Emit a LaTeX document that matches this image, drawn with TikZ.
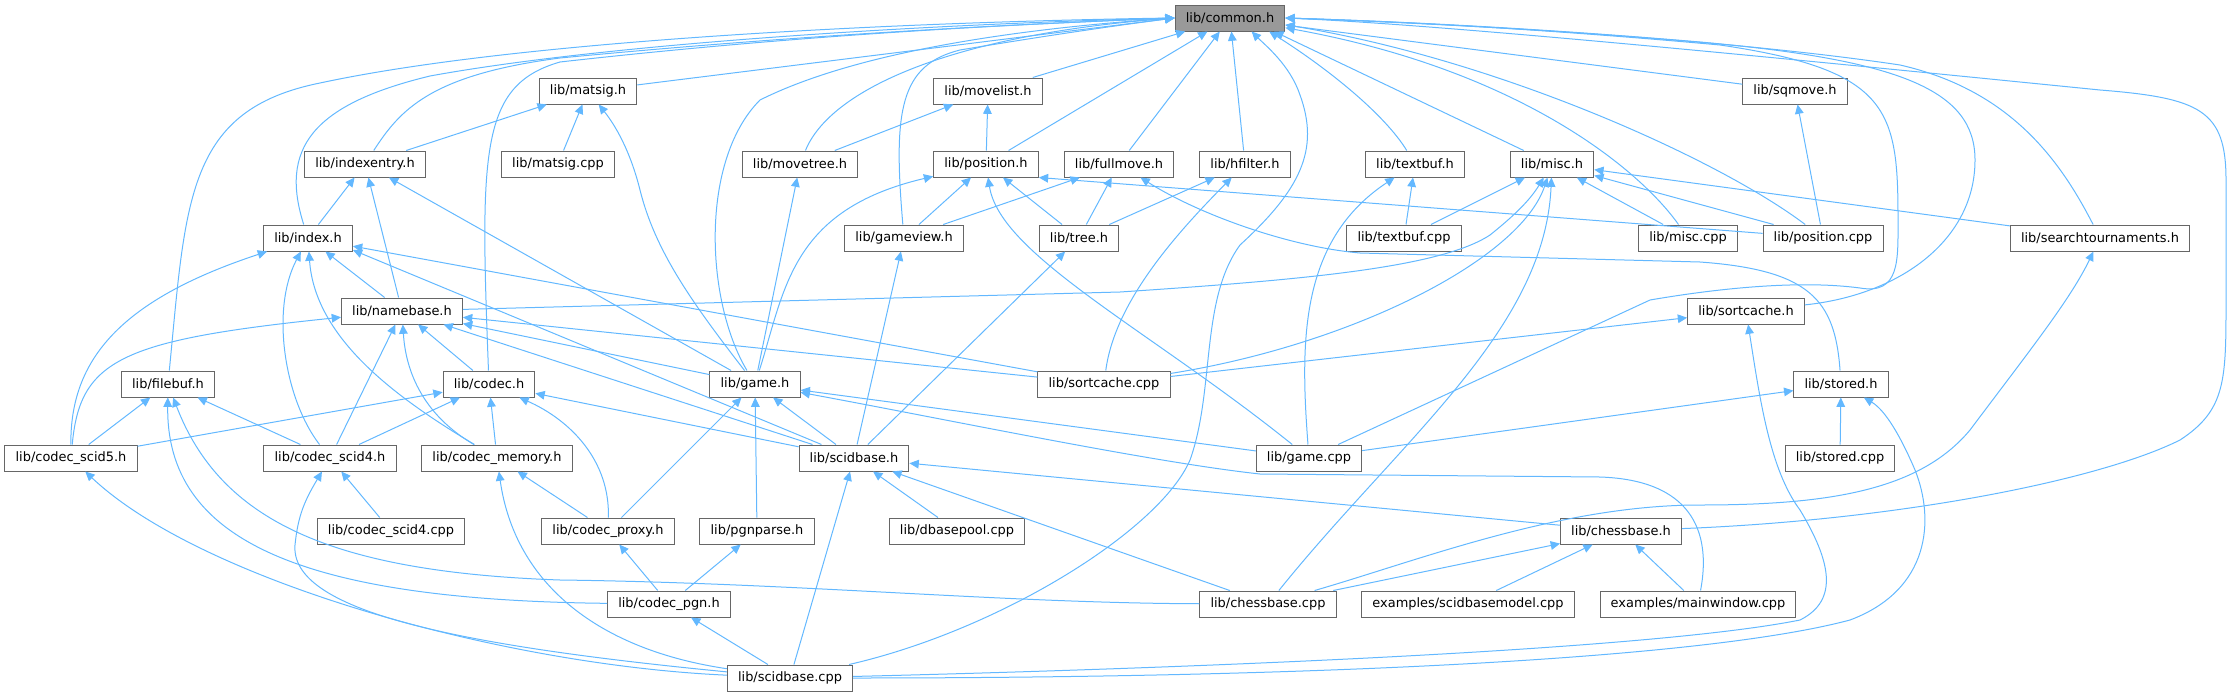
\documentclass[tikz,border=0pt]{standalone}
\usepackage{fontspec}
\setmainfont{DejaVu Sans}
\usetikzlibrary{arrows.meta}
\definecolor{edgeblue}{HTML}{63B8FF}
\definecolor{boxgray}{HTML}{666666}
\definecolor{rootgray}{HTML}{999999}
\newcommand{\dfont}{\fontsize{9.7pt}{11pt}\selectfont}

\begin{document}
\begin{tikzpicture}[x=0.75pt,y=-0.75pt,>={Triangle[length=7pt,width=6.5pt]},
filebox/.style={draw=boxgray,fill=white,line width=0.75pt,minimum height=19.5pt,inner xsep=8pt,inner ysep=0pt,font=\dfont},
root/.style={filebox,fill=rootgray},
incl/.style={->,draw=edgeblue,line width=0.75pt}]
\useasboundingbox (0,0) rectangle (2233,696);
\node[root] (common) at (1230,18) {lib/common.h};
\node[filebox] (matsig) at (588,91) {lib/matsig.h};
\node[filebox] (movelist) at (988,91) {lib/movelist.h};
\node[filebox] (sqmove) at (1795,91) {lib/sqmove.h};
\node[filebox] (indexentry) at (365,164) {lib/indexentry.h};
\node[filebox] (matsigcpp) at (558,164) {lib/matsig.cpp};
\node[filebox] (movetree) at (800,164) {lib/movetree.h};
\node[filebox] (position) at (986,164) {lib/position.h};
\node[filebox] (fullmove) at (1119,164) {lib/fullmove.h};
\node[filebox] (hfilter) at (1245,164) {lib/hfilter.h};
\node[filebox] (textbuf) at (1415,164) {lib/textbuf.h};
\node[filebox] (misc) at (1552,164) {lib/misc.h};
\node[filebox] (index) at (308,238) {lib/index.h};
\node[filebox] (gameview) at (904,238) {lib/gameview.h};
\node[filebox] (tree) at (1079,238) {lib/tree.h};
\node[filebox] (textbufcpp) at (1404,238) {lib/textbuf.cpp};
\node[filebox] (misccpp) at (1688,238) {lib/misc.cpp};
\node[filebox] (positioncpp) at (1823,238) {lib/position.cpp};
\node[filebox] (searchtour) at (2100,238) {lib/searchtournaments.h};
\node[filebox] (namebase) at (402,311) {lib/namebase.h};
\node[filebox] (sortcache) at (1746,311) {lib/sortcache.h};
\node[filebox] (filebuf) at (168,384) {lib/filebuf.h};
\node[filebox] (codec) at (489,384) {lib/codec.h};
\node[filebox] (game) at (755,384) {lib/game.h};
\node[filebox] (sortcachecpp) at (1104,384) {lib/sortcache.cpp};
\node[filebox] (stored) at (1841,384) {lib/stored.h};
\node[filebox] (scidfive) at (71,458) {lib/codec\_scid5.h};
\node[filebox] (scidfour) at (330,458) {lib/codec\_scid4.h};
\node[filebox] (memory) at (497,458) {lib/codec\_memory.h};
\node[filebox] (scidbase) at (854,458) {lib/scidbase.h};
\node[filebox] (gamecpp) at (1309,458) {lib/game.cpp};
\node[filebox] (storedcpp) at (1840,458) {lib/stored.cpp};
\node[filebox] (scidfourcpp) at (391,531) {lib/codec\_scid4.cpp};
\node[filebox] (proxy) at (608,531) {lib/codec\_proxy.h};
\node[filebox] (pgnparse) at (757,531) {lib/pgnparse.h};
\node[filebox] (dbasepool) at (957,531) {lib/dbasepool.cpp};
\node[filebox] (chessbase) at (1621,531) {lib/chessbase.h};
\node[filebox] (pgn) at (669,604) {lib/codec\_pgn.h};
\node[filebox] (chessbasecpp) at (1268,604) {lib/chessbase.cpp};
\node[filebox] (model) at (1468,604) {examples/scidbasemodel.cpp};
\node[filebox] (mainwindow) at (1698,604) {examples/mainwindow.cpp};
\node[filebox] (scidbasecpp) at (790,678) {lib/scidbase.cpp};
\draw[incl] (filebuf) .. controls (186,200) and (186,110) .. (320,83) .. controls (520,40) and (900,22) .. (common.west);
\draw[incl] (index) .. controls (280,150) and (310,105) .. (430,76) .. controls (600,45) and (900,25) .. (common.west);
\draw[incl] (indexentry) .. controls (400,110) and (430,75) .. (560,58) .. controls (800,35) and (1000,25) .. (common.west);
\draw[incl] (codec) .. controls (480,150) and (480,85) .. (560,62) .. controls (800,35) and (1000,25) .. (common.west);
\draw[incl] (matsig) -- (common.west);
\draw[incl] (game) .. controls (705,300) and (700,160) .. (760,100) .. controls (850,55) and (1000,30) .. (common.west);
\draw[incl] (movetree) .. controls (830,90) and (950,35) .. (common.west);
\draw[incl] (gameview) .. controls (893,110) and (900,65) .. (960,50) .. controls (1050,35) and (1120,25) .. (common.west);
\draw[incl] (movelist) -- (common);
\draw[incl] (position) -- (common);
\draw[incl] (fullmove) -- (common);
\draw[incl] (hfilter) -- (common);
\draw[incl] (scidbasecpp) .. controls (1000,630) and (1160,530) .. (1190,460) .. controls (1215,390) and (1200,300) .. (1240,245) .. controls (1300,190) and (1320,150) .. (1300,95) .. controls (1290,65) and (1265,45) .. (common.328);
\draw[incl] (textbuf) .. controls (1385,115) and (1330,70) .. (common.341);
\draw[incl] (misc) -- (common.343);
\draw[incl] (misccpp) .. controls (1640,170) and (1520,70) .. (common.350);
\draw[incl] (positioncpp) .. controls (1720,160) and (1500,60) .. (common.353);
\draw[incl] (sqmove) -- (common);
\draw[incl] (gamecpp) -- (1650,300) .. controls (1720,288) and (1800,280) .. (1860,288) .. controls (1900,295) and (1898,260) .. (1898,220) .. controls (1898,110) and (1890,70) .. (1720,45) .. controls (1500,25) and (1350,20) .. (common.east);
\draw[incl] (sortcache) .. controls (1900,295) and (1975,240) .. (1975,160) .. controls (1975,90) and (1900,60) .. (1700,42) .. controls (1500,25) and (1350,20) .. (common.east);
\draw[incl] (searchtour) .. controls (2060,160) and (2010,90) .. (1900,65) .. controls (1700,35) and (1400,22) .. (common.east);
\draw[incl] (chessbase) .. controls (1900,520) and (2100,480) .. (2180,440) .. controls (2226,410) and (2226,380) .. (2226,300) -- (2226,180) .. controls (2226,110) and (2200,98) .. (2100,90) .. controls (1800,60) and (1450,25) .. (common.east);
\draw[incl] (indexentry) -- (matsig);
\draw[incl] (matsigcpp) -- (matsig);
\draw[incl] (game) .. controls (690,300) and (655,250) .. (640,190) .. controls (630,150) and (615,125) .. (matsig);
\draw[incl] (movetree) -- (movelist);
\draw[incl] (position) -- (movelist);
\draw[incl] (index) -- (indexentry);
\draw[incl] (namebase) -- (indexentry);
\draw[incl] (game) -- (indexentry);
\draw[incl] (game) -- (movetree);
\draw[incl] (game) .. controls (785,290) and (790,210) .. (position);
\draw[incl] (gameview) -- (position);
\draw[incl] (gamecpp) .. controls (1150,330) and (1000,255) .. (position);
\draw[incl] (tree) -- (position);
\draw[incl] (positioncpp) -- (position.south east);
\draw[incl] (gameview) -- (fullmove);
\draw[incl] (tree) -- (fullmove);
\draw[incl] (stored) .. controls (1835,300) and (1810,270) .. (1700,262) -- (1360,253) .. controls (1290,247) and (1200,215) .. (fullmove);
\draw[incl] (tree) -- (hfilter);
\draw[incl] (sortcachecpp) .. controls (1115,300) and (1180,230) .. (hfilter);
\draw[incl] (gamecpp) .. controls (1300,340) and (1300,240) .. (textbuf);
\draw[incl] (textbufcpp) -- (textbuf);
\draw[incl] (textbufcpp) -- (misc);
\draw[incl] (namebase) -- (1120,292) .. controls (1300,280) and (1440,268) .. (1490,235) .. controls (1515,215) and (1530,200) .. (misc);
\draw[incl] (sortcachecpp) .. controls (1350,345) and (1520,260) .. (misc);
\draw[incl] (chessbasecpp) .. controls (1400,440) and (1545,330) .. (misc);
\draw[incl] (misccpp) -- (misc);
\draw[incl] (positioncpp) -- (misc);
\draw[incl] (searchtour) -- (misc);
\draw[incl] (positioncpp) -- (sqmove);
\draw[incl] (scidfive) .. controls (70,360) and (120,300) .. (index);
\draw[incl] (scidfour) .. controls (285,400) and (270,310) .. (index);
\draw[incl] (memory) .. controls (400,400) and (315,340) .. (index);
\draw[incl] (namebase) -- (index);
\draw[incl] (sortcachecpp) -- (index);
\draw[incl] (scidbase) -- (index.345);
\draw[incl] (scidbase) -- (gameview);
\draw[incl] (scidbase) -- (tree);
\draw[incl] (chessbasecpp) .. controls (1420,560) and (1560,505) .. (1700,505) .. controls (1830,505) and (1920,490) .. (1970,430) .. controls (2030,350) and (2070,300) .. (searchtour);
\draw[incl] (scidfive) .. controls (80,360) and (120,340) .. (namebase);
\draw[incl] (scidfour) -- (namebase);
\draw[incl] (memory) .. controls (415,410) and (405,360) .. (namebase);
\draw[incl] (codec) -- (namebase);
\draw[incl] (scidbase) -- (namebase);
\draw[incl] (game) -- (namebase);
\draw[incl] (sortcachecpp) -- (namebase);
\draw[incl] (sortcachecpp) -- (sortcache);
\draw[incl] (scidbasecpp) .. controls (1200,668) and (1650,650) .. (1800,620) .. controls (1840,600) and (1830,560) .. (1800,510) .. controls (1770,470) and (1760,400) .. (sortcache);
\draw[incl] (scidfive) -- (filebuf);
\draw[incl] (pgn) .. controls (300,600) and (166,540) .. (filebuf);
\draw[incl] (chessbasecpp) .. controls (1000,603) and (800,583) .. (560,580) .. controls (330,572) and (220,520) .. (filebuf);
\draw[incl] (scidfour) -- (filebuf);
\draw[incl] (scidfive) -- (codec);
\draw[incl] (scidfour) -- (codec);
\draw[incl] (memory) -- (codec);
\draw[incl] (proxy) .. controls (610,460) and (570,420) .. (codec);
\draw[incl] (scidbase) -- (codec);
\draw[incl] (proxy) -- (game);
\draw[incl] (pgnparse) -- (game);
\draw[incl] (scidbase) -- (game);
\draw[incl] (gamecpp) -- (game);
\draw[incl] (mainwindow) .. controls (1712,530) and (1690,480) .. (1600,477) -- (1260,474) .. controls (1150,462) and (950,420) .. (game);
\draw[incl] (gamecpp) -- (stored);
\draw[incl] (storedcpp) -- (stored);
\draw[incl] (scidbasecpp) .. controls (1300,678) and (1700,660) .. (1850,620) .. controls (1930,590) and (1935,520) .. (1915,470) .. controls (1900,435) and (1885,410) .. (stored);
\draw[incl] (scidbasecpp) .. controls (500,665) and (200,580) .. (scidfive);
\draw[incl] (scidbasecpp) .. controls (450,645) and (290,610) .. (295,545) .. controls (298,515) and (305,500) .. (scidfour);
\draw[incl] (scidfourcpp) -- (scidfour);
\draw[incl] (scidbasecpp) .. controls (600,650) and (515,585) .. (memory);
\draw[incl] (proxy) -- (memory);
\draw[incl] (scidbasecpp) -- (scidbase);
\draw[incl] (dbasepool) -- (scidbase);
\draw[incl] (chessbasecpp) -- (scidbase);
\draw[incl] (chessbase) -- (scidbase);
\draw[incl] (pgn) -- (proxy);
\draw[incl] (pgn) -- (pgnparse);
\draw[incl] (chessbasecpp) -- (chessbase);
\draw[incl] (model) -- (chessbase);
\draw[incl] (mainwindow) -- (chessbase);
\draw[incl] (scidbasecpp) -- (pgn);
\end{tikzpicture}
\end{document}
